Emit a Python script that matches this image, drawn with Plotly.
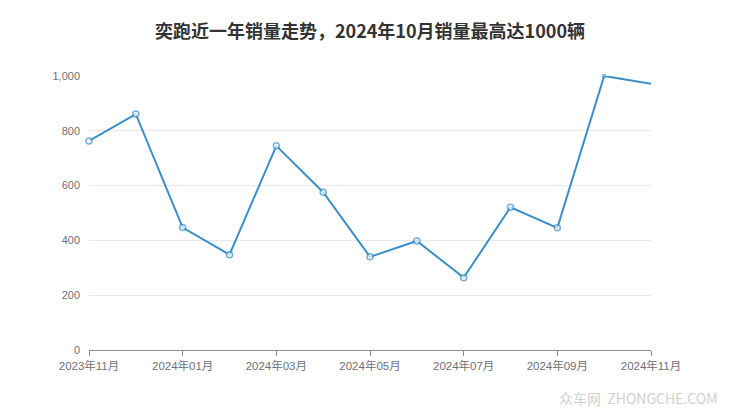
import plotly.graph_objects as go

months = ["2023年11月", "2023年12月", "2024年01月", "2024年02月", "2024年03月", "2024年04月",
          "2024年05月", "2024年06月", "2024年07月", "2024年08月", "2024年09月", "2024年10月", "2024年11月"]
sales = [763, 861, 447, 348, 745, 576, 340, 398, 264, 521, 446, 1000, 972]
marker_sizes = [6, 6, 6, 6, 6, 6, 6, 6, 6, 6, 6, 3, 0]
tick_labels = ["2023年11月", "2024年01月", "2024年03月", "2024年05月", "2024年07月", "2024年09月", "2024年11月"]
y_ticks = [0, 200, 400, 600, 800, 1000]
title_text = "奕跑近一年销量走势，2024年10月销量最高达1000辆"

fig = go.Figure()
fig.add_trace(go.Scatter(
    x=months, y=sales, mode="lines+markers",
    line=dict(color="#3a8fc6", width=2),
    marker=dict(symbol="circle", size=marker_sizes, color="white", line=dict(width=1.5, color="#3a8fc6")),
    cliponaxis=False, hoverinfo="x+y"
))

fig.update_layout(
    width=740, height=417,
    margin=dict(l=89, r=89, t=76, b=67),
    paper_bgcolor="white", plot_bgcolor="white",
    showlegend=False,
    title=dict(text=title_text, x=0.5, xanchor="center", y=0.923, yanchor="middle",
               font=dict(family="Noto Sans CJK SC", size=18, color="#333333", weight="bold")),
    font=dict(family="Liberation Sans, Noto Sans CJK SC", size=11, color="#6e7079"),
)
fig.update_xaxes(
    type="category", categoryorder="array", categoryarray=months,
    range=[0, len(months) - 1],
    tickmode="array", tickvals=tick_labels, ticktext=tick_labels,
    showgrid=False, showline=True, linecolor="#8a8a8a", linewidth=1,
    ticks="outside", ticklen=5, tickcolor="#8a8a8a",
    tickfont=dict(size=11.5, color="#6e7079"),
    zeroline=False,
)
fig.update_yaxes(
    range=[0, 1000], tickmode="array", tickvals=y_ticks,
    tickformat=",d", showgrid=True, gridcolor="#e6e9ee", gridwidth=1,
    showline=False, zeroline=False, ticks="", ticklabelstandoff=8,
    tickfont=dict(size=11, color="#6e7079"),
)

fig.add_annotation(
    text="众车网  ZHONGCHE.COM", xref="paper", yref="paper",
    x=1.123, y=-0.175, xanchor="right", yanchor="middle", showarrow=False,
    font=dict(family="Noto Sans CJK SC", size=14, color="#d0d0d0"),
)

fig.write_html("out.html", config={"displayModeBar": False},
               post_script="document.body.style.margin='0';")
